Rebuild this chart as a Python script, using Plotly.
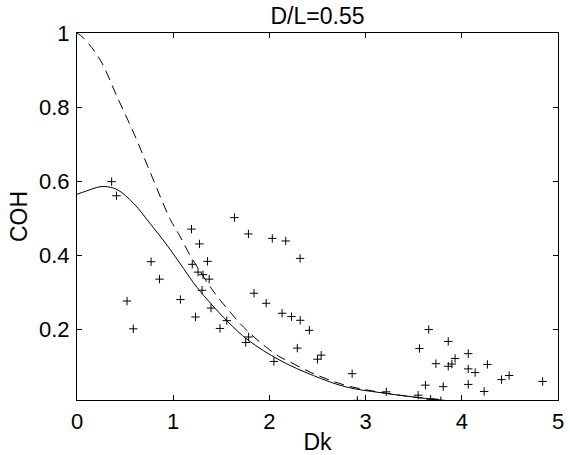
import plotly.graph_objects as go

# Measured data points (Dk, COH)
dk_pts = [0.36, 0.41, 0.52, 0.585, 0.77, 0.858, 1.075, 1.19, 1.198, 1.232, 1.258, 1.273,
          1.30, 1.31, 1.357, 1.374, 1.393, 1.486, 1.557, 1.637, 1.754, 1.784, 1.782, 1.84,
          1.966, 2.03, 2.047, 2.132, 2.17, 2.23, 2.29, 2.319, 2.32, 2.415, 2.50, 2.538,
          2.86, 2.914, 3.215, 3.546, 3.56, 3.622, 3.656, 3.676, 3.731, 3.782, 3.807, 3.859,
          3.859, 3.897, 3.93, 4.067, 4.067, 4.067, 4.139, 4.232, 4.266, 4.413, 4.492, 4.84]
coh_pts = [0.599, 0.561, 0.277, 0.202, 0.383, 0.336, 0.281, 0.471, 0.376, 0.234, 0.355, 0.431,
           0.306, 0.348, 0.384, 0.336, 0.258, 0.203, 0.224, 0.502, 0.165, 0.180, 0.458, 0.298,
           0.271, 0.446, 0.114, 0.244, 0.439, 0.235, 0.150, 0.392, 0.225, 0.198, 0.120, 0.131,
           0.081, 0.009, 0.032, 0.023, 0.149, 0.050, 0.200, 0.012, 0.108, 0.008, 0.046, 0.101,
           0.168, 0.107, 0.122, 0.135, 0.094, 0.052, 0.084, 0.033, 0.106, 0.065, 0.076, 0.060]

# Model curve (solid)
dk_model = [0, 0.1, 0.2, 0.28, 0.415, 0.59, 0.76, 0.935, 1.107, 1.25, 1.557, 1.782,
            2.11, 2.457, 2.8, 3.15, 3.5, 3.74, 3.9]
coh_model = [0.565, 0.574, 0.583, 0.586, 0.578, 0.54, 0.486, 0.428, 0.365, 0.313, 0.224, 0.171,
             0.117, 0.076, 0.045, 0.030, 0.018, 0.011, 0.007]

# Reference curve (dashed)
dk_ref = [0, 0.07, 0.24, 0.415, 0.59, 0.76, 0.97, 1.07, 1.18, 1.25, 1.38, 1.49, 1.73,
          1.94, 2.11, 2.18, 2.46, 2.8, 3.15, 3.5, 3.8]
coh_ref = [1.0, 0.986, 0.928, 0.829, 0.73, 0.625, 0.497, 0.452, 0.398, 0.369, 0.317, 0.279, 0.207,
           0.158, 0.126, 0.117, 0.081, 0.049, 0.031, 0.018, 0.011]

x_ticks = [0, 1, 2, 3, 4, 5]
y_ticks = [0.2, 0.4, 0.6, 0.8, 1]
y_tick_text = ["0.2", "0.4", "0.6", "0.8", "1"]

FONT = "Liberation Sans, Arial, Helvetica, sans-serif"

fig = go.Figure()
fig.add_trace(go.Scatter(x=dk_ref, y=coh_ref, mode="lines", hoverinfo="skip",
                         line=dict(color="black", width=1, dash="10px,6px", shape="spline")))
fig.add_trace(go.Scatter(x=dk_model, y=coh_model, mode="lines", hoverinfo="skip",
                         line=dict(color="black", width=1, shape="spline")))
fig.add_trace(go.Scatter(x=dk_pts, y=coh_pts, mode="markers", hoverinfo="skip",
                         marker=dict(symbol="cross-thin", size=6, color="black", line=dict(color="black", width=1))))

fig.update_layout(
    width=570, height=455,
    margin=dict(l=77, r=12, t=33, b=55, autoexpand=False),
    paper_bgcolor="white", plot_bgcolor="white",
    showlegend=False,
    hovermode=False,
    font=dict(family=FONT, size=22, color="black"),
    title=dict(text="D/L=0.55", xref="paper", x=0.5, xanchor="center", y=0.966, yanchor="middle",
               font=dict(family=FONT, size=23, color="black")),
)
fig.update_xaxes(range=[0, 5], tickvals=x_ticks, ticks="inside", ticklen=5, tickcolor="black",
                 showline=True, linecolor="black", linewidth=1, mirror="ticks", showgrid=False, zeroline=False,
                 automargin=False, ticklabelstandoff=2,
                 title=dict(text="Dk", standoff=5, font=dict(size=23)), tickfont=dict(size=22))
fig.update_yaxes(range=[0.01, 1], tickvals=y_ticks, ticktext=y_tick_text, ticks="inside", ticklen=5, tickcolor="black",
                 showline=True, linecolor="black", linewidth=1, mirror="ticks", showgrid=False, zeroline=False,
                 automargin=False, ticklabelstandoff=2,
                 title=dict(text="COH", standoff=4, font=dict(size=23)), tickfont=dict(size=22))

# Remove the default 8px page margin so the figure fills the window from its top-left corner.
fig.write_html("out.html", config={"displayModeBar": False},
               post_script="document.body.style.margin='0';document.body.style.padding='0';")
